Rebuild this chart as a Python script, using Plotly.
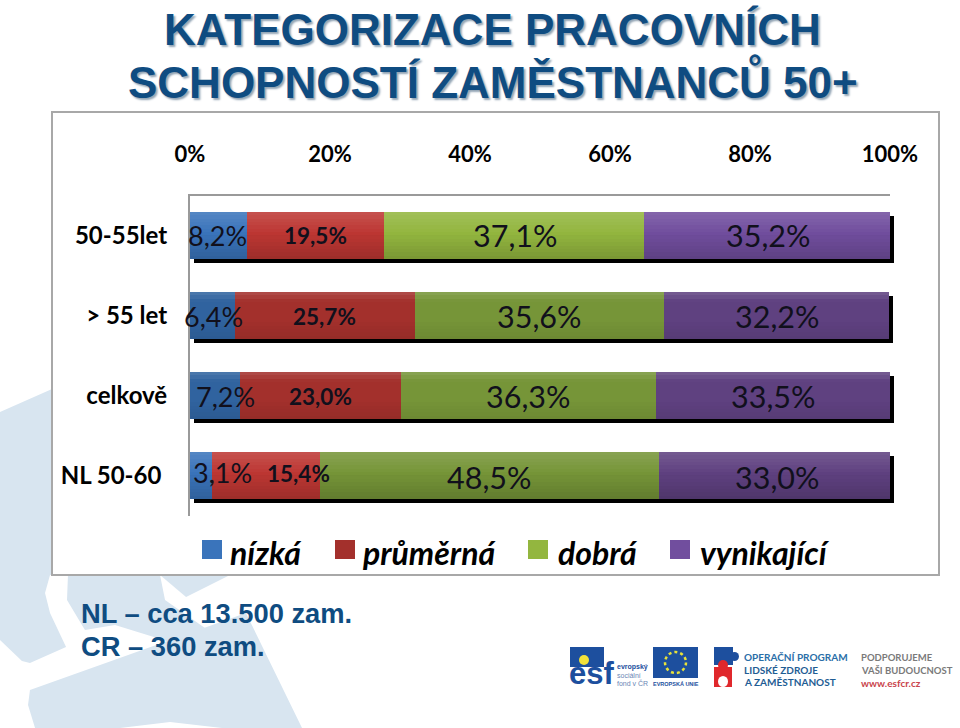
import plotly.graph_objects as go

W, H = 960, 728
categories = ["50-55let", "> 55 let", "celkově", "NL 50-60\u00a0"]
series_names = ["nízká", "průměrná", "dobrá", "vynikající"]
nizka = [8.2, 6.4, 7.2, 3.1]
prumerna = [19.5, 25.7, 23.0, 15.4]
dobra = [37.1, 35.6, 36.3, 48.5]
vynikajici = [35.2, 32.2, 33.5, 33.0]
values = [nizka, prumerna, dobra, vynikajici]
bright = ["#3a74bb", "#bd3733", "#93b63f", "#714e9e"]
dark = ["#30639f", "#a3302c", "#769538", "#5f4180"]
row_is_bright = [[True, False, False, True], [True, False, False, True],
                 [True, False, False, False], [True, False, False, False]]
sheen_bright = [True, False, False, True]
tick_vals = [0, 20, 40, 60, 80, 100]
tick_text = ["0%", "20%", "40%", "60%", "80%", "100%"]
label_text = [["8,2%", "6,4%", "7,2%", "3,1%"], ["19,5%", "25,7%", "23,0%", "15,4%"],
              ["37,1%", "35,6%", "36,3%", "48,5%"], ["35,2%", "32,2%", "33,5%", "33,0%"]]
label_dx = [[-1, 1, 10, 22], [0, 0, 0, 33], [1, 0, 0, 0], [1, 0, 0, 2]]
label_dy = [[0, 1, 1, -3], [0, 1, 1, -2], [0, 1, 1, 2], [0, 1, 1, 2]]
BLUE = "#0f4c81"


def px(x):
    return x / W


def py(y):
    return 1 - y / H


row_range = [3.5, -0.5]
bar_w = 0.5875
totals = [sum(v[i] for v in values) for i in range(4)]

fig = go.Figure()
# shadow (first subplot, underneath)
fig.add_trace(go.Bar(x=totals, y=list(range(4)), orientation="h", width=bar_w, xaxis="x", yaxis="y",
                     marker=dict(color="#000000", line_width=0), showlegend=False, hoverinfo="skip"))
# main bars
for s, (name, vals) in enumerate(zip(series_names, values)):
    cols = [bright[s] if b else dark[s] for b in row_is_bright[s]]
    fig.add_trace(go.Bar(name=name, x=vals, y=list(range(4)), orientation="h", width=bar_w, xaxis="x2", yaxis="y2",
                         marker=dict(color=cols, line_width=0), showlegend=False))
# gradient sheen
N = 14
ys, xs, ws, cs = [], [], [], []
band = bar_w / N
for r in range(4):
    for k in range(N):
        t = (k + 0.5) / N
        ys.append(r - bar_w / 2 + (k + 0.5) * band)
        xs.append(totals[r])
        ws.append(band * 1.02)
        if sheen_bright[r]:
            a = 0.14 * (1 - t / 0.45) if t < 0.45 else 0
            b = 0.17 * (t - 0.45) / 0.55 if t >= 0.45 else 0
        else:
            a = 0.16 * (1 - t / 0.2) if t < 0.2 else 0
            b = 0.08 * (t - 0.6) / 0.4 if t >= 0.6 else 0
        cs.append(f"rgba(255,255,255,{a:.3f})" if a > 0 else f"rgba(0,0,0,{b:.3f})")
fig.add_trace(go.Bar(x=xs, y=ys, width=ws, orientation="h", xaxis="x3", yaxis="y3",
                     marker=dict(color=cs, line_width=0), showlegend=False, hoverinfo="skip"))

shapes = []


def poly(points, fill):
    d = "M" + "L".join(f"{px(x):.4f},{py(y):.4f}" for x, y in points) + "Z"
    shapes.append(dict(type="path", path=d, xref="paper", yref="paper", fillcolor=fill, line_width=0, layer="below"))


def rect(x0, y0, x1, y1, fill, line=None, lw=0, layer="below"):
    shapes.append(dict(type="rect", xref="paper", yref="paper", x0=px(x0), x1=px(x1), y0=py(y0), y1=py(y1),
                       fillcolor=fill, line=dict(color=line, width=lw) if line else dict(width=0), layer=layer))


WM = "#d8e5f0"
poly([(0, 412), (52, 389), (60, 575), (50, 575), (45, 593), (50, 613), (66, 647), (30, 663), (22, 661), (0, 640)], WM)
poly([(68, 575), (160, 575), (165, 600), (205, 628), (170, 642), (115, 625), (85, 630), (67, 600)], WM)
poly([(160, 575), (230, 575), (186, 597)], WM)
poly([(30, 690), (246, 613), (302, 728), (222, 728), (170, 722), (120, 728), (35, 728), (28, 705)], WM)
rect(52, 112, 939, 575, "#ffffff", "#a8a8a8", 2)

annots = []


def txt(x, y, s, size, color="#000", family="Liberation Sans", anchor="center", bold=False, italic=False, shadow=None):
    if bold:
        s = f"<b>{s}</b>"
    if italic:
        s = f"<i>{s}</i>"
    font = dict(size=size, color=color, family=family)
    if shadow:
        font["shadow"] = shadow
    annots.append(dict(x=px(x - 3 if anchor == "left" else x), y=py(y), xref="paper", yref="paper", text=s,
                       showarrow=False, xanchor=anchor, yanchor="middle", font=font))


# title
title_lines = ["KATEGORIZACE PRACOVNÍCH", "SCHOPNOSTÍ ZAMĚSTNANCŮ 50+"]
for t, y in zip(title_lines, [30, 80]):
    txt(492.5, y, t, 44, BLUE, bold=True, shadow="2px 2px 2px #93a5b5")
txt(82, 613, "NL – cca 13.500 zam.", 27.3, BLUE, anchor="left", bold=True)
txt(82, 646, "CR – 360 zam.", 27.3, BLUE, anchor="left", bold=True)

# data labels placed from the stacked values
for s in range(4):
    for r in range(4):
        base = sum(values[j][r] for j in range(s))
        t = label_text[s][r]
        size = {0: 27, 1: 22.5}.get(s, 30.5)
        annots.append(dict(x=base + values[s][r] / 2, y=r, xref="x2", yref="y2", showarrow=False,
                           text=f"<b>{t}</b>" if s == 1 else t, xshift=label_dx[s][r], yshift=-label_dy[s][r],
                           font=dict(size=size, color="#11101c", family="Lato")))

# legend
leg_sw = [202, 335, 528, 670]
leg_tx = [231, 363, 559, 701]
for s, name in enumerate(series_names):
    rect(leg_sw[s], 540, leg_sw[s] + 20, 559, bright[s] if s != 1 else dark[s], layer="above")
    txt(leg_tx[s], 552, name, 32, "#000", "Lato", "left", bold=True, italic=True)

# logos
rect(570, 647, 604, 667, "#1d4f9e")
txt(570, 673, "esf", 31, "#1d4f9e", "Liberation Sans", "left", bold=True)
shapes.append(dict(type="circle", xref="paper", yref="paper", x0=px(579), x1=px(589), y0=py(665), y1=py(655),
                   fillcolor="#f3e23a", line_width=0))
for i, t in enumerate(["evropský", "sociální", "fond v ČR"]):
    txt(618, 667 + i * 8, t, 7, "#1d4f9e" if i == 0 else "#6b86b5", anchor="left", bold=i == 0)
rect(653, 647, 698, 678, "#1d4f9e")
shapes.append(dict(type="circle", xref="paper", yref="paper", x0=px(665), x1=px(686), y0=py(673), y1=py(652),
                   fillcolor="rgba(0,0,0,0)", line=dict(color="#e8e23a", width=2.5, dash="dot")))
txt(675.5, 684, "EVROPSKÁ UNIE", 5.5, "#1d4f9e", bold=True)
rect(714, 647, 733, 665, "#1d4f9e")
shapes.append(dict(type="circle", xref="paper", yref="paper", x0=px(730), x1=px(739), y0=py(661), y1=py(652),
                   fillcolor="#1d4f9e", line_width=0))
rect(714, 667, 732, 687, "#e0282c")
shapes.append(dict(type="circle", xref="paper", yref="paper", x0=px(718), x1=px(728), y0=py(670), y1=py(660),
                   fillcolor="#e0282c", line_width=0))
shapes.append(dict(type="circle", xref="paper", yref="paper", x0=px(718), x1=px(728), y0=py(687), y1=py(676),
                   fillcolor="#ffffff", line_width=0))
for i, t in enumerate(["OPERAČNÍ PROGRAM", "LIDSKÉ ZDROJE", "A ZAMĚSTNANOST"]):
    txt(745, 657 + i * 12.7, t, 10, "#2a6ea8" if i == 0 else "#1f5d94", "Lato", "left", bold=True)
txt(862, 657, "PODPORUJEME", 9.5, "#7a7a7a", "Lato", "left", bold=True)
txt(862, 670, "VAŠI BUDOUCNOST", 9.5, "#7a7a7a", "Lato", "left", bold=True)
txt(862, 683, "www.esfcr.cz", 10, "#c9434b", "Lato", "left", bold=True)

dx, dy = 4, 4
top, bottom = 195.5, 515.5
fig.update_layout(
    width=W, height=H, autosize=False, margin=dict(l=0, r=0, t=0, b=0, autoexpand=False),
    paper_bgcolor="#ffffff", plot_bgcolor="rgba(0,0,0,0)", barmode="stack", showlegend=False,
    shapes=shapes, annotations=annots,
    xaxis=dict(domain=[px(190 + dx), px(890 + dx)], range=[0, 100], visible=False, anchor="y"),
    yaxis=dict(domain=[py(bottom + dy), py(top + dy)], range=row_range, visible=False, anchor="x"),
    xaxis2=dict(domain=[px(190), px(890)], range=[0, 100], side="top", anchor="y2", tickvals=tick_vals,
                ticktext=[f"<b>{t}</b>" for t in tick_text], showgrid=False, zeroline=False, showline=True,
                linecolor="#9a9a9a", linewidth=2, ticks="outside", ticklen=23, tickcolor="rgba(0,0,0,0)",
                tickfont=dict(size=22, color="#000", family="Lato"), automargin=False),
    yaxis2=dict(domain=[py(bottom), py(top)], range=row_range, anchor="x2", tickvals=[0, 1, 2, 3],
                ticktext=[f"<b>{c}</b>" for c in categories], showgrid=False, zeroline=False, showline=True,
                linecolor="#9a9a9a", linewidth=2, ticks="outside", ticklen=16, tickcolor="rgba(0,0,0,0)",
                tickfont=dict(size=24, color="#000", family="Lato"), automargin=False),
    xaxis3=dict(domain=[px(190), px(890)], range=[0, 100], visible=False, anchor="y3"),
    yaxis3=dict(domain=[py(bottom), py(top)], range=row_range, visible=False, anchor="x3"),
)
fig.write_html("out.html", post_script="document.body.style.margin='0';", config={"displayModeBar": False})
